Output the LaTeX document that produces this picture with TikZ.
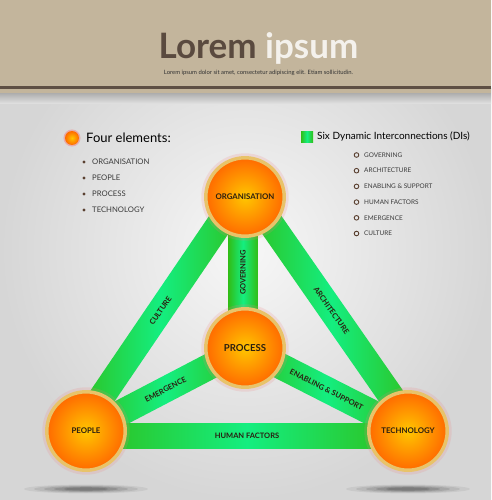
\documentclass[tikz,border=0pt]{standalone}
\usepackage{fontspec}
\setmainfont{Lato}
\definecolor{headtan}{HTML}{C3B59C}
\definecolor{linebrown}{HTML}{5E4F44}
\definecolor{titlebrown}{HTML}{5A4A3F}
\definecolor{titlewhite}{HTML}{F4F1EC}
\definecolor{bggray}{HTML}{D6D6D6}
\definecolor{bgin}{HTML}{F7F7F7}
\definecolor{gdark}{HTML}{30BE18}
\definecolor{glight}{HTML}{14EE80}
\definecolor{orin}{HTML}{FFC600}
\definecolor{orout}{HTML}{FF6A00}
\definecolor{goldring}{HTML}{E8C36A}
\definecolor{halo}{HTML}{F08080}
\definecolor{labeltext}{HTML}{2A1E10}
\definecolor{listtext}{HTML}{3A3A3A}
\definecolor{bulletbrown}{HTML}{5A4030}
\begin{document}
\begin{tikzpicture}[x=1pt,y=-1pt,
  ball/.style={circle, minimum size=78.4pt, inner sep=0pt, draw=goldring, line width=3.5pt,
    inner color=orin, outer color=orout, text=labeltext,
    font=\bfseries\fontsize{7.8}{8}\selectfont,
    preaction={draw=halo, line width=9pt, draw opacity=0.18}},
  band/.style={rectangle, minimum height=26pt, inner sep=0pt, left color=gdark, right color=gdark,
    middle color=glight, text=labeltext, font=\bfseries\fontsize{7.5}{8}\selectfont},
  listitem/.style={anchor=west, text=listtext, inner sep=0pt},
]
\useasboundingbox (0,0) rectangle (491,500);
% background
\shade[inner color=bgin, outer color=bggray] (0,0) rectangle (491,500);
\shade[top color=black!40, bottom color=bggray!60!bgin] (0,89) rectangle (491,104);
\fill[headtan] (0,0) rectangle (491,93);
\fill[linebrown] (0,86.5) rectangle (491,89);
% title
\node[anchor=base, inner sep=0pt, font=\bfseries\fontsize{35}{36}\selectfont] (title) at (258.5,59)
  {\textcolor{titlebrown}{Lorem} \textcolor{titlewhite}{ipsum}};
\node[inner sep=0pt, text=black!80, font=\fontsize{5.9}{6}\selectfont] (subtitle) at (258.5,72.6)
  {Lorem ipsum dolor sit amet, consectetur adipiscing elit. Etiam sollicitudin.};
% shadows
\foreach \cx in {86,408}{
  \foreach \r/\o in {62/0.06,52/0.08,42/0.1,32/0.12,22/0.15}{
    \fill[black, opacity=\o] (\cx,489) ellipse ({\r} and {\r/14});
  }
}
% centres
\coordinate (O) at (245,197);
\coordinate (P) at (245,348);
\coordinate (L) at (86,431);
\coordinate (T) at (408,431);
\coordinate (Lc) at (81,427.6);
\coordinate (Oc) at (240,193.6);
\coordinate (Oa) at (250,193.6);
\coordinate (Ta) at (413,427.6);
\coordinate (Lh) at (86,436);
\coordinate (Th) at (408,436);
% bands
\path (Lc) -- (Oc) node[band, midway, sloped, minimum width=283pt] (culture) {CULTURE};
\path (Oa) -- (Ta) node[band, midway, sloped, minimum width=283pt] (architecture) {ARCHITECTURE};
\path (L) -- (P) node[band, midway, sloped, minimum width=179pt] (emergence) {EMERGENCE};
\path (P) -- (T) node[band, midway, sloped, minimum width=183pt] (enabling) {ENABLING \& SUPPORT};
\node[band, rotate=90, minimum width=151pt, minimum height=29pt] (governing) at (243,272.5) {GOVERNING};
\path (Lh) -- (Th) node[band, midway, minimum width=322pt, minimum height=25pt] (human) {HUMAN FACTORS};
% balls
\node[ball] (org) at (O) {ORGANISATION};
\node[ball, font=\bfseries\fontsize{9.6}{10}\selectfont] (proc) at (P) {PROCESS};
\node[ball] (people) at (L) {PEOPLE};
\node[ball] (tech) at (T) {TECHNOLOGY};
% left legend
\node[circle, minimum size=14pt, inner sep=0pt, inner color=orin, outer color=orout,
  preaction={draw=halo, line width=3pt, draw opacity=0.5}] (legball) at (72,138) {};
\node[anchor=west, inner sep=0pt, text=black, font=\fontsize{13}{14}\selectfont] (fourel) at (86,138) {Four elements:};
\foreach \t [count=\i] in {ORGANISATION,PEOPLE,PROCESS,TECHNOLOGY}{
  \fill[bulletbrown] (84,{146+16*\i}) circle (1.7);
  \node[listitem, font=\fontsize{7.7}{8}\selectfont] (l\i) at (92,{146+16*\i}) {\t};
}
% right legend
\node[rectangle, minimum width=12pt, minimum height=11pt, inner sep=0pt, left color=gdark, right color=gdark, middle color=glight] (legsq) at (307,136.5) {};
\node[anchor=west, inner sep=0pt, text=black, font=\fontsize{10}{11}\selectfont] (sixdi) at (317,136) {Six Dynamic Interconnections (DIs)};
\foreach \t [count=\i] in {GOVERNING,ARCHITECTURE,ENABLING \& SUPPORT,HUMAN FACTORS,EMERGENCE,CULTURE}{
  \draw[bulletbrown, line width=0.9pt] (356.5,{139.3+15.7*\i}) circle (2.3);
  \node[listitem, font=\fontsize{6.4}{7}\selectfont] (r\i) at (364,{139.3+15.7*\i}) {\t};
}
\end{tikzpicture}
\end{document}
